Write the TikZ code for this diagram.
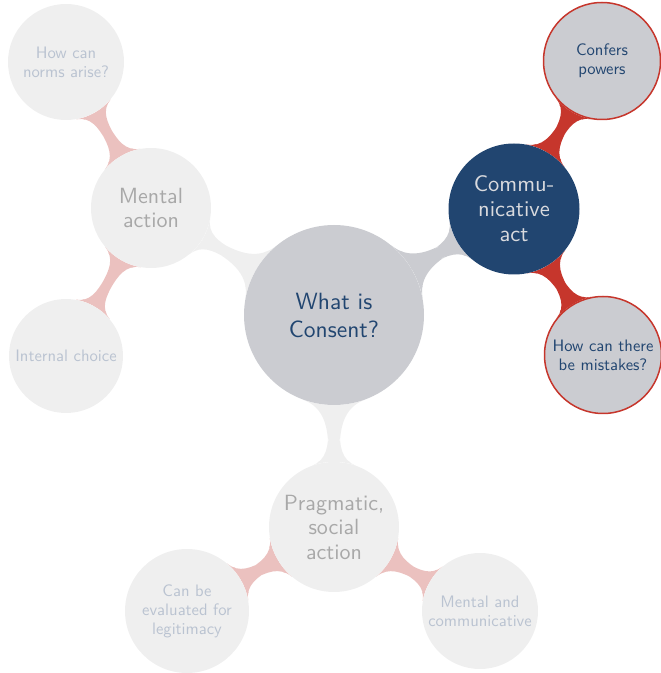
\documentclass[tikz,border=0pt]{standalone}
\usepackage{fontspec}
\setsansfont{lmsans10-regular.otf}
\usetikzlibrary{mindmap,backgrounds}
\definecolor{rootfill}{HTML}{CBCCD1}
\definecolor{dblue}{HTML}{214570}
\definecolor{commtext}{HTML}{D9DADE}
\definecolor{cred}{HTML}{C6362C}
\definecolor{faded}{HTML}{EFEFEF}
\definecolor{fadedtext}{HTML}{A8A8A8}
\definecolor{leaftext}{HTML}{BAC3D1}
\definecolor{cpink}{HTML}{EBC1BF}
\tikzset{
  cnode/.style={circle, inner sep=0pt, align=center},
  rootc/.style={cnode, fill=rootfill, text=dblue, minimum size=180pt,
    font=\sffamily\fontsize{23.5}{28}\selectfont},
  commc/.style={cnode, fill=dblue, text=commtext, minimum size=131pt,
    font=\sffamily\fontsize{22.5}{25}\selectfont},
  fadeone/.style={cnode, fill=faded, text=fadedtext,
    font=\sffamily\fontsize{22}{24.5}\selectfont},
  redleaf/.style={cnode, fill=rootfill, draw=cred, line width=1.5pt, text=dblue,
    minimum size=117pt, font=\sffamily\fontsize{16.6}{19}\selectfont},
  fadeleaf/.style={cnode, fill=faded, text=leaftext,
    font=\sffamily\fontsize{16.6}{19}\selectfont},
  bar/.style args={#1/#2/#3/#4}{circle connection bar switch color=from (#1) to (#1),
    decoration={start radius=#2, end radius=#3, amplitude=#4}}
}
\begin{document}
\begin{tikzpicture}[x=1pt,y=1pt]
\useasboundingbox (0,0) rectangle (661,673);
\node[rootc] (root) at (334,358) {What is\\Consent?};
\node[commc] (comm) at (514,464) {Commu-\\nicative\\act};
\node[redleaf] (confers) at (602,612) {Confers\\powers};
\node[redleaf] (mistakes) at (603,318) {How can there\\be mistakes?};
\node[fadeone, minimum size=120pt] (mental) at (151,465) {Mental\\action};
\node[fadeleaf, minimum size=116pt] (norms) at (66,611) {How can\\norms arise?};
\node[fadeleaf, minimum size=114pt] (internal) at (66,317) {Internal choice};
\node[fadeone, minimum size=130pt] (prag) at (334,146) {Pragmatic,\\social\\action};
\node[fadeleaf, minimum size=124pt] (legit) at (187,62) {Can be\\evaluated for\\legitimacy};
\node[fadeleaf, minimum size=116pt] (mentcomm) at (480,62) {Mental and\\communicative};
\begin{pgfonlayer}{background}
\path (root) to[bar=rootfill/90pt/65pt/20pt] (comm);
\path (root) to[bar=faded/90pt/60pt/20pt] (mental);
\path (root) to[bar=faded/90pt/65pt/20pt] (prag);
\path (comm) to[bar=cred/65pt/59pt/14pt] (confers);
\path (comm) to[bar=cred/65pt/59pt/14pt] (mistakes);
\path (mental) to[bar=cpink/60pt/58pt/14pt] (norms);
\path (mental) to[bar=cpink/60pt/57pt/14pt] (internal);
\path (prag) to[bar=cpink/65pt/62pt/14pt] (legit);
\path (prag) to[bar=cpink/65pt/58pt/14pt] (mentcomm);
\end{pgfonlayer}
\end{tikzpicture}
\end{document}
